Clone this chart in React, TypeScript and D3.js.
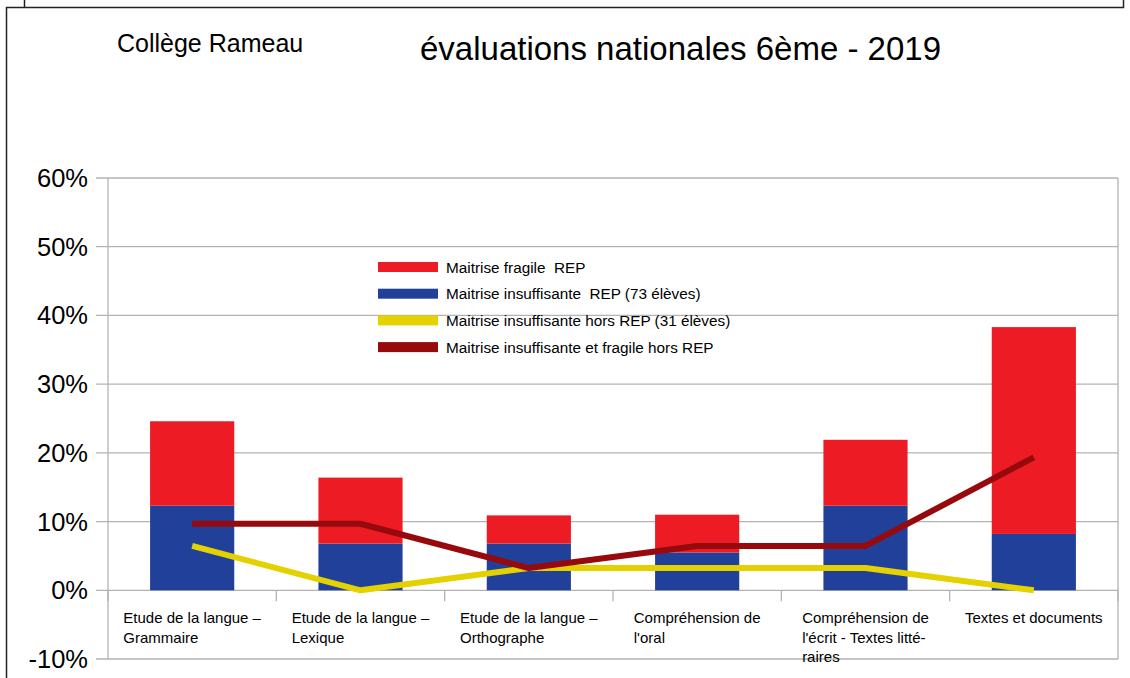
import React, { useEffect, useRef } from "react";
import * as d3 from "d3";

const categories = [
  ["Etude de la langue –", "Grammaire"],
  ["Etude de la langue –", "Lexique"],
  ["Etude de la langue –", "Orthographe"],
  ["Compréhension de", "l'oral"],
  ["Compréhension de", "l'écrit - Textes litté-", "raires"],
  ["Textes et documents"],
];
const insuffisantREP = [12.3, 6.8, 6.8, 5.5, 12.3, 8.2];
const fragileREP = [12.3, 9.6, 4.1, 5.5, 9.6, 30.1];
const insuffisantHorsREP = [6.45, 0, 3.23, 3.23, 3.23, 0];
const insuffFragileHorsREP = [9.68, 9.68, 3.23, 6.45, 6.45, 19.35];
const yTicks = [-10, 0, 10, 20, 30, 40, 50, 60];
const legendLabels = [
  "Maitrise fragile  REP",
  "Maitrise insuffisante  REP (73 élèves)",
  "Maitrise insuffisante hors REP (31 élèves)",
  "Maitrise insuffisante et fragile hors REP",
];

const COLORS = { red: "#ed1c24", blue: "#21409a", yellow: "#e3d100", dark: "#960a0e" };
const FONT = "'Liberation Sans', Arial, sans-serif";

export default function App() {
  const ref = useRef<SVGSVGElement>(null);
  useEffect(() => {
    const svg = d3.select(ref.current);
    svg.selectAll("*").remove();
    const left = 108, right = 1118, top = 178, bottom = 659;
    const y = d3.scaleLinear().domain([-10, 60]).range([bottom, top]);
    const idx = categories.map((_, i) => String(i));
    const x = d3.scaleBand().domain(idx).range([left, right]).padding(0);
    const bw = x.bandwidth() * 0.5;
    const cx = (i: number) => (x(String(i)) as number) + x.bandwidth() / 2;

    // outer frame
    const frame = svg.append("g").attr("stroke", "#222").attr("stroke-width", 1.5).attr("fill", "none");
    frame.append("path").attr("d", "M6.5,678 V7.5 H1123.5 V0");
    frame.append("path").attr("d", "M24.5,0 V7.5");

    // grid
    const grid = svg.append("g").attr("stroke", "#b3b3b3").attr("stroke-width", 1.3);
    yTicks.forEach((t) => {
      grid.append("line").attr("x1", left - 12).attr("x2", right).attr("y1", y(t)).attr("y2", y(t));
    });
    grid.append("line").attr("x1", left).attr("x2", left).attr("y1", top).attr("y2", bottom);
    grid.append("line").attr("x1", right).attr("x2", right).attr("y1", top).attr("y2", bottom);
    d3.range(categories.length + 1).forEach((i) => {
      const xx = left + i * x.bandwidth();
      grid.append("line").attr("x1", xx).attr("x2", xx).attr("y1", y(0)).attr("y2", y(0) + 11);
    });

    // y labels
    svg.append("g").selectAll("text").data(yTicks).join("text")
      .attr("x", 88).attr("y", (d) => y(d) + 9).attr("text-anchor", "end")
      .attr("font-family", FONT).attr("font-size", 25.5).attr("fill", "#000")
      .text((d) => d + "%");

    // bars
    const bars = svg.append("g");
    insuffisantREP.forEach((v, i) => {
      bars.append("rect").attr("x", cx(i) - bw / 2).attr("width", bw)
        .attr("y", y(v)).attr("height", y(0) - y(v)).attr("fill", COLORS.blue);
      const tot = v + fragileREP[i];
      bars.append("rect").attr("x", cx(i) - bw / 2).attr("width", bw)
        .attr("y", y(tot)).attr("height", y(v) - y(tot)).attr("fill", COLORS.red);
    });

    // lines
    const line = d3.line<number>().x((_, i) => cx(i)).y((d) => y(d));
    svg.append("path").attr("d", line(insuffisantHorsREP)).attr("fill", "none")
      .attr("stroke", COLORS.yellow).attr("stroke-width", 6).attr("stroke-linejoin", "round");
    svg.append("path").attr("d", line(insuffFragileHorsREP)).attr("fill", "none")
      .attr("stroke", COLORS.dark).attr("stroke-width", 6).attr("stroke-linejoin", "round");

    // x labels
    const xl = svg.append("g").attr("font-family", FONT).attr("font-size", 15).attr("fill", "#000");
    categories.forEach((lines, i) => {
      const g = xl.append("g");
      const ts = lines.map((l, j) => g.append("text").attr("y", 623 + j * 19.5).text(l));
      const w = Math.max(...ts.map((t) => (t.node() as SVGTextElement).getComputedTextLength()));
      ts.forEach((t) => t.attr("x", cx(i) - w / 2));
    });

    // legend
    const lg = svg.append("g");
    const colors = [COLORS.red, COLORS.blue, COLORS.yellow, COLORS.dark];
    legendLabels.forEach((l, i) => {
      const yc = 267 + i * 26.7;
      lg.append("rect").attr("x", 378).attr("y", yc - 5).attr("width", 60).attr("height", 10).attr("fill", colors[i]);
      lg.append("text").attr("x", 446).attr("y", yc + 5.5).attr("font-family", FONT).attr("font-size", 15.3)
        .attr("fill", "#000").style("white-space", "pre").text(l);
    });

    // titles
    svg.append("text").attr("x", 117).attr("y", 52).attr("font-family", FONT).attr("font-size", 25)
      .attr("fill", "#000").text("Collège Rameau");
    svg.append("text").attr("x", 420).attr("y", 60).attr("font-family", FONT).attr("font-size", 33)
      .attr("fill", "#000").text("évaluations nationales 6ème - 2019");
  }, []);
  return (
    <svg ref={ref} width={1130} height={678}
      style={{ position: "absolute", left: 0, top: 0, background: "#fff" }} />
  );
}
